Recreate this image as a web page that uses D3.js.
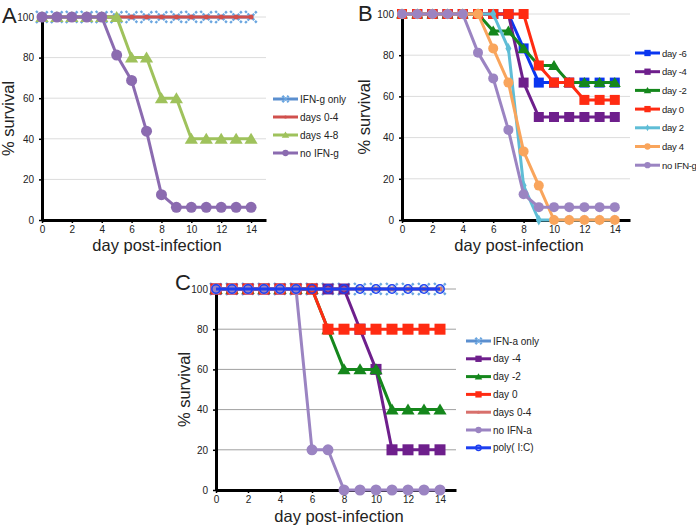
<!DOCTYPE html>
<html>
<head>
<meta charset="utf-8">
<script src="https://cdn.jsdelivr.net/npm/d3@7"></script>
<style>
  body { margin: 0; background: #fff; }
  text { font-family: "Liberation Sans", Arial, sans-serif; fill: #222; }
</style>
</head>
<body>
<svg id="chart" width="696" height="527"></svg>
<script>
// x categories and tick labels
const days = [0, 1, 2, 3, 4, 5, 6, 7, 8, 9, 10, 11, 12, 13, 14];
const xTicks = [0, 2, 4, 6, 8, 10, 12, 14];
const yTicks = [0, 20, 40, 60, 80, 100];

// panel A - IFN-g
const aNames = ['IFN-g  only', 'days 0-4', 'days 4-8', 'no IFN-g'];
const aIfnOnly = [100, 100, 100, 100, 100, 100, 100, 100, 100, 100, 100, 100, 100, 100, 100];
const aDays04 = [100, 100, 100, 100, 100, 100, 100, 100, 100, 100, 100, 100, 100, 100, 100];
const aDays48 = [100, 100, 100, 100, 100, 100, 80, 80, 60, 60, 40, 40, 40, 40, 40];
const aNoIfn = [100, 100, 100, 100, 100, 81.25, 68.75, 43.75, 12.5, 6.25, 6.25, 6.25, 6.25, 6.25, 6.25];

// panel B - IFN-g timing
const bNames = ['day -6', 'day -4', 'day -2', 'day 0', 'day 2', 'day 4', 'no IFN-g'];
const bDayM6 = [100, 100, 100, 100, 100, 100, 100, 100, 83.3, 66.7, 66.7, 66.7, 66.7, 66.7, 66.7];
const bDayM4 = [100, 100, 100, 100, 100, 100, 100, 100, 66.7, 50, 50, 50, 50, 50, 50];
const bDayM2 = [100, 100, 100, 100, 100, 100, 91.7, 91.7, 83.3, 75, 75, 66.7, 66.7, 66.7, 66.7];
const bDay0 = [100, 100, 100, 100, 100, 100, 100, 100, 100, 75, 66.7, 66.7, 58.3, 58.3, 58.3];
const bDay2 = [100, 100, 100, 100, 100, 100, 100, 83.3, 16.7, 0, 0, 0, 0, 0, 0];
const bDay4 = [100, 100, 100, 100, 100, 100, 83.3, 66.7, 33.3, 16.7, 0, 0, 0, 0, 0];
const bNoIfn = [100, 100, 100, 100, 100, 81.25, 68.75, 43.75, 12.5, 6.25, 6.25, 6.25, 6.25, 6.25, 6.25];

// panel C - IFN-a
const cNames = ['IFN-a only', 'day -4', 'day -2', 'day 0', 'days 0-4', 'no IFN-a', 'poly( I:C)'];
const cIfnOnly = [100, 100, 100, 100, 100, 100, 100, 100, 100, 100, 100, 100, 100, 100, 100];
const cDayM4 = [100, 100, 100, 100, 100, 100, 100, 100, 100, 80, 60, 20, 20, 20, 20];
const cDayM2 = [100, 100, 100, 100, 100, 100, 100, 80, 60, 60, 60, 40, 40, 40, 40];
const cDay0 = [100, 100, 100, 100, 100, 100, 100, 80, 80, 80, 80, 80, 80, 80, 80];
const cDays04 = [100, 100, 100, 100, 100, 100, 100, 100, 100, 100, 100, 100, 100, 100, 100];
const cNoIfn = [100, 100, 100, 100, 100, 100, 20, 20, 0, 0, 0, 0, 0, 0, 0];
const cPoly = [100, 100, 100, 100, 100, 100, 100, 100, 100, 100, 100, 100, 100, 100, 100];

const svg = d3.select('#chart');

// draws one marker of a given kind at x,y
function marker(g, kind, cx, cy, color, s) {
  if (kind === 'circle') {
    g.append('circle').attr('cx', cx).attr('cy', cy).attr('r', s / 2).attr('fill', color);
  } else if (kind === 'dot') {
    g.append('circle').attr('cx', cx).attr('cy', cy).attr('r', s / 4).attr('fill', color);
  } else if (kind === 'ring') {
    g.append('circle').attr('cx', cx).attr('cy', cy).attr('r', s / 2.4)
      .attr('fill', 'none').attr('stroke', color).attr('stroke-width', 1.5);
  } else if (kind === 'square') {
    g.append('rect').attr('x', cx - s / 2).attr('y', cy - s / 2).attr('width', s).attr('height', s).attr('fill', color);
  } else if (kind === 'tri') {
    g.append('path').attr('d', `M${cx},${cy - s * 0.55}L${cx + s * 0.6},${cy + s * 0.45}L${cx - s * 0.6},${cy + s * 0.45}Z`).attr('fill', color);
  } else if (kind === 'diamond') {
    g.append('path').attr('d', `M${cx},${cy - s * 0.55}L${cx + s * 0.3},${cy}L${cx},${cy + s * 0.55}L${cx - s * 0.3},${cy}Z`).attr('fill', color);
  } else if (kind === 'x') {
    const h = s / 2;
    g.append('path').attr('d', `M${cx - h},${cy - h}L${cx + h},${cy + h}M${cx - h},${cy + h}L${cx + h},${cy - h}`)
      .attr('stroke', color).attr('stroke-width', 2.4).attr('stroke-dasharray', '2.5,1')
      .attr('fill', 'none');
  }
}

function drawPanel(p) {
  const x = d3.scaleLinear().domain([0, 15]).range([p.left, p.right]);
  const y = d3.scaleLinear().domain([0, 100]).range([p.bottom, p.top]);
  const g = svg.append('g');

  // horizontal gridlines
  g.selectAll('line.grid')
    .data(yTicks.filter(v => v > 0))
    .enter()
    .append('line')
    .attr('class', 'grid')
    .attr('x1', x(0)).attr('x2', x(15))
    .attr('y1', d => y(d)).attr('y2', d => y(d))
    .attr('stroke', p.grid).attr('stroke-width', 1);

  // axes
  const xAxis = g.append('g')
    .attr('transform', `translate(0,${p.bottom})`)
    .call(d3.axisBottom(x).tickValues(xTicks).tickSize(3).tickSizeOuter(0).tickPadding(3));
  const yAxis = g.append('g')
    .attr('transform', `translate(${p.left},0)`)
    .call(d3.axisLeft(y).tickValues(yTicks).tickSize(3).tickSizeOuter(0).tickPadding(5));
  [xAxis, yAxis].forEach(a => {
    a.select('.domain').attr('stroke', '#000').attr('stroke-width', 3);
    a.selectAll('.tick line').attr('stroke', '#000').attr('stroke-width', 1.5);
    a.selectAll('text').style('font-size', '10px').attr('fill', '#222');
  });

  // series, first in legend drawn first
  const line = d3.line().x((d, i) => x(days[i])).y(d => y(d));
  p.series.forEach(s => {
    const sg = g.append('g');
    sg.append('path').datum(s.values).attr('d', line)
      .attr('fill', 'none').attr('stroke', s.color).attr('stroke-width', s.width || 3)
      .attr('stroke-linejoin', 'round');
    s.values.forEach((v, i) => marker(sg, s.marker, x(days[i]), y(v), s.markColor || s.color, s.size));
  });

  // legend
  p.series.forEach((s, i) => {
    const ly = p.legY + i * p.legStep;
    const lg = g.append('g');
    lg.append('line').attr('x1', p.legX).attr('x2', p.legX + 25).attr('y1', ly).attr('y2', ly)
      .attr('stroke', s.color).attr('stroke-width', 3);
    marker(lg, s.marker, p.legX + 12.5, ly, s.markColor || s.color, Math.min(s.size, 7) * 0.9);
    lg.append('text').attr('x', p.legX + 27).attr('y', ly + 3.5)
      .style('font-size', p.legFont).style('letter-spacing', p.legSpacing || '0px').text(s.name);
  });

  // titles
  g.append('text').attr('x', (x(0) + x(15)) / 2 + p.titleShift).attr('y', p.bottom + p.titleY)
    .attr('text-anchor', 'middle').style('font-size', '16.5px').text('day post-infection');
  g.append('text')
    .attr('transform', `translate(${p.ylabX},${(p.top + p.bottom) / 2}) rotate(-90)`)
    .attr('text-anchor', 'middle').style('font-size', '16.5px').text('% survival');
  g.append('text').attr('x', p.letterX).attr('y', p.letterY).style('font-size', '22px').text(p.letter);
}

drawPanel({
  letter: 'A', letterX: 2, letterY: 23,
  left: 42, right: 266, top: 17, bottom: 220, grid: '#dcdcdc', titleShift: 3, titleY: 31,
  ylabX: 14, legX: 273, legY: 99, legStep: 18, legFont: '10px',
  series: [
    { name: aNames[0], values: aIfnOnly, color: '#5b8fcf', marker: 'x', size: 12, markColor: '#6aa6e0' },
    { name: aNames[1], values: aDays04, color: '#d0504d', marker: 'dot', size: 10 },
    { name: aNames[2], values: aDays48, color: '#9fc25c', marker: 'tri', size: 11 },
    { name: aNames[3], values: aNoIfn, color: '#8b6bb0', marker: 'circle', size: 11 }
  ]
});

drawPanel({
  letter: 'B', letterX: 358, letterY: 21,
  left: 402, right: 630, top: 14, bottom: 220, grid: '#dcdcdc', titleShift: 3, titleY: 31,
  ylabX: 370, legX: 635, legY: 53, legStep: 18.7, legFont: '9.5px', legSpacing: '-0.3px',
  series: [
    { name: bNames[0], values: bDayM6, color: '#0a36f0', marker: 'square', size: 10 },
    { name: bNames[1], values: bDayM4, color: '#6e1f8c', marker: 'square', size: 10 },
    { name: bNames[2], values: bDayM2, color: '#15871c', marker: 'tri', size: 10 },
    { name: bNames[3], values: bDay0, color: '#ff2b12', marker: 'square', size: 10 },
    { name: bNames[4], values: bDay2, color: '#5fbdd6', marker: 'diamond', size: 10 },
    { name: bNames[5], values: bDay4, color: '#f9a55c', marker: 'circle', size: 10 },
    { name: bNames[6], values: bNoIfn, color: '#9b84c2', marker: 'circle', size: 10 }
  ]
});

drawPanel({
  letter: 'C', letterX: 175, letterY: 290,
  left: 216, right: 456, top: 289, bottom: 490, grid: '#a0a0a0', titleShift: 3, titleY: 32,
  ylabX: 190, legX: 466, legY: 341, legStep: 17.8, legFont: '10px',
  series: [
    { name: cNames[0], values: cIfnOnly, color: '#5b8fcf', marker: 'x', size: 12, markColor: '#6aa6e0' },
    { name: cNames[1], values: cDayM4, color: '#6e1f8c', marker: 'square', size: 11 },
    { name: cNames[2], values: cDayM2, color: '#15871c', marker: 'tri', size: 11 },
    { name: cNames[3], values: cDay0, color: '#ff2b12', marker: 'square', size: 11 },
    { name: cNames[4], values: cDays04, color: '#d8706c', marker: 'dot', size: 10 },
    { name: cNames[5], values: cNoIfn, color: '#9b84c2', marker: 'circle', size: 11 },
    { name: cNames[6], values: cPoly, color: '#1e3ff0', marker: 'ring', size: 10 }
  ]
});
</script>
</body>
</html>
